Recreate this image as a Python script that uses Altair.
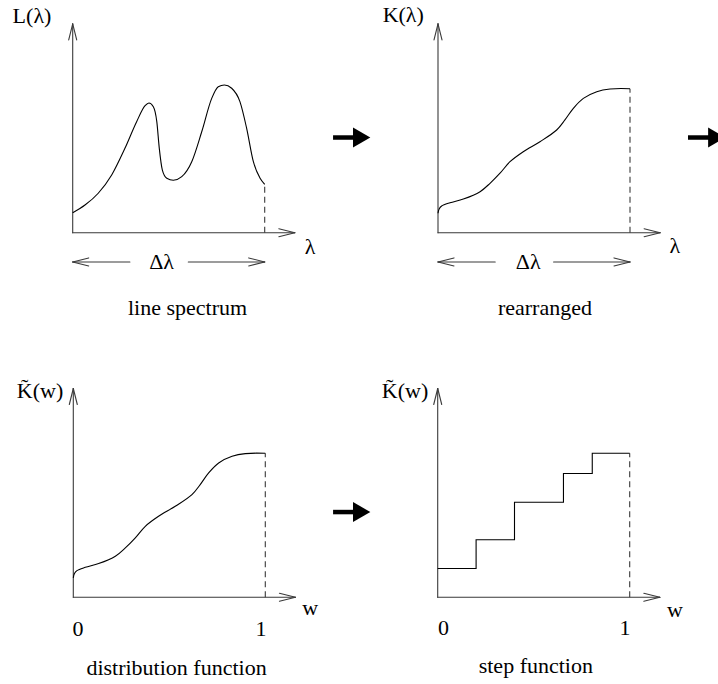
import altair as alt
import pandas as pd

# ---- curves (x: fraction of the band, y: relative intensity) ----
L_X = [0.0, 0.064, 0.133, 0.203, 0.272, 0.333, 0.377, 0.397, 0.420, 0.438, 0.451,
       0.467, 0.490, 0.524, 0.568, 0.620, 0.672, 0.724, 0.758, 0.790, 0.828, 0.871,
       0.906, 0.941, 0.976, 1.0]
L_Y = [0.139, 0.192, 0.274, 0.401, 0.586, 0.771, 0.882, 0.901, 0.875, 0.771, 0.586,
       0.435, 0.378, 0.364, 0.389, 0.493, 0.701, 0.933, 1.014, 1.026, 1.003, 0.910,
       0.725, 0.493, 0.378, 0.336]

K_X = [0.0, 0.006, 0.019, 0.0625, 0.132, 0.219, 0.271, 0.323, 0.375, 0.444, 0.531,
       0.618, 0.661, 0.705, 0.757, 0.827, 0.896, 1.0]
K_Y = [0.135, 0.165, 0.185, 0.208, 0.234, 0.285, 0.343, 0.413, 0.493, 0.5625, 0.632,
       0.713, 0.783, 0.864, 0.933, 0.979, 0.998, 1.0]

STEP_W = [0.0, 0.2, 0.4, 0.655, 0.805, 1.0]
STEP_K = [0.2, 0.4, 0.66, 0.86, 1.0, 1.0]

# ---- layout ----
CELL_W, CELL_H = 359, 342      # size of each of the four panels
UX, UY = 192.0, 144.0          # pixels per unit along x and y
Y_TIP, X_TIP = 1.45, 1.157     # axis arrow tips
FONT = "Liberation Serif"
FS = 22
AXIS_COLOR = "#3a3a3a"


def frame_segments(with_delta):
    hx, hy = 4 / UX, 16 / UY     # head of vertical arrow
    vx, vy = 16 / UX, 4 / UY     # head of horizontal arrow
    segs = [
        (0, 0, 0, Y_TIP), (-hx, Y_TIP - hy, 0, Y_TIP), (hx, Y_TIP - hy, 0, Y_TIP),
        (0, 0, X_TIP, 0), (X_TIP - vx, vy, X_TIP, 0), (X_TIP - vx, -vy, X_TIP, 0),
    ]
    if with_delta:
        yd = -0.203
        segs += [
            (0, yd, 0.298, yd), (0, yd, vx, yd + vy), (0, yd, vx, yd - vy),
            (0.602, yd, 1.0, yd), (1.0 - vx, yd + vy, 1.0, yd), (1.0 - vx, yd - vy, 1.0, yd),
        ]
    return pd.DataFrame(segs, columns=["x", "y", "x2", "y2"])


def panel(ox, oy, curve, interp, dash_top, labels, connector=None, clip_connector=False):
    W, H = CELL_W, CELL_H
    xs = alt.Scale(domain=[-ox / UX, (W - ox) / UX], nice=False, zero=False)
    ys = alt.Scale(domain=[-(H - oy) / UY, oy / UY], nice=False, zero=False)

    def X(f):
        return alt.X(f"{f}:Q", scale=xs, axis=None)

    def Y(f):
        return alt.Y(f"{f}:Q", scale=ys, axis=None)

    frame = alt.Chart(frame_segments(labels.get("delta") is not None)).mark_rule(
        color=AXIS_COLOR, strokeWidth=1.1, strokeCap="round"
    ).encode(x=X("x"), y=Y("y"), x2="x2:Q", y2="y2:Q")

    dashed = alt.Chart(pd.DataFrame({"x": [1.0], "y": [0.0], "y2": [dash_top]})).mark_rule(
        color=AXIS_COLOR, strokeWidth=1.1, strokeDash=[6, 4]
    ).encode(x=X("x"), y=Y("y"), y2="y2:Q")

    line = alt.Chart(curve).mark_line(
        color="black", strokeWidth=1.1, interpolate=interp
    ).encode(x=X("x"), y=Y("y"), order="x:Q")

    txt = pd.DataFrame(labels["text"], columns=["x", "y", "t", "b"])
    mid = alt.Chart(txt[txt.b == "middle"]).mark_text(
        font=FONT, fontSize=FS, color="black", align="center", baseline="middle"
    ).encode(x=X("x"), y=Y("y"), text="t:N")
    base = alt.Chart(txt[txt.b == "alphabetic"]).mark_text(
        font=FONT, fontSize=FS, color="black", align="center", baseline="alphabetic"
    ).encode(x=X("x"), y=Y("y"), text="t:N")

    layers = [frame, dashed, line, mid, base]

    if connector is not None:
        x0, x1, xh, yc = connector
        shaft = alt.Chart(pd.DataFrame({"x": [x0], "x2": [x1], "y": [yc]})).mark_rule(
            color="black", strokeWidth=4.5, clip=clip_connector
        ).encode(x=X("x"), x2="x2:Q", y=Y("y"))
        head = alt.Chart(pd.DataFrame({"x": [xh], "y": [yc]})).mark_point(
            shape="triangle-right", size=400, filled=True, color="black", opacity=1,
            strokeWidth=0, clip=clip_connector
        ).encode(x=X("x"), y=Y("y"))
        layers += [shaft, head]

    return alt.layer(*layers).properties(width=W, height=H)


spectrum = pd.DataFrame({"x": L_X, "y": L_Y})
cumulative = pd.DataFrame({"x": K_X, "y": K_Y})
steps = pd.DataFrame({"x": STEP_W, "y": STEP_K})

p1 = panel(
    72.7, 232.7, spectrum, "monotone", L_Y[-1],
    {"delta": True, "text": [
        (-0.212, 1.505, "L(λ)", "middle"),
        (1.236, -0.100, "λ", "middle"),
        (0.463, -0.203, "Δλ", "middle"),
        (0.598, -0.572, "line spectrum", "alphabetic"),
    ]},
    connector=(1.356, 1.47, 1.505, 0.661),
)
p2 = panel(
    79.0, 232.7, cumulative, "catmull-rom", K_Y[-1],
    {"delta": True, "text": [
        (-0.181, 1.51, "K(λ)", "middle"),
        (1.234, -0.090, "λ", "middle"),
        (0.470, -0.203, "Δλ", "middle"),
        (0.557, -0.572, "rearranged", "alphabetic"),
    ]},
    connector=(1.302, 1.417, 1.452, 0.661),
    clip_connector=True,
)
p3 = panel(
    73.3, 255.3, cumulative, "catmull-rom", K_Y[-1],
    {"delta": None, "text": [
        (-0.173, 1.43, "K̃(w)", "middle"),
        (1.234, -0.074, "w", "middle"),
        (0.024, -0.220, "0", "middle"),
        (0.978, -0.220, "1", "middle"),
        (0.5375, -0.54, "distribution function", "alphabetic"),
    ]},
    connector=(1.353, 1.467, 1.502, 0.592),
)
p4 = panel(
    78.7, 255.3, steps, "step-after", STEP_K[-1],
    {"delta": None, "text": [
        (-0.170, 1.43, "K̃(w)", "middle"),
        (1.236, -0.088, "w", "middle"),
        (0.030, -0.215, "0", "middle"),
        (0.976, -0.215, "1", "middle"),
        (0.511, -0.525, "step function", "alphabetic"),
    ]},
)

chart = (
    alt.concat(p1, p2, p3, p4, columns=2, spacing=0, bounds="flush")
    .properties(autosize=alt.AutoSizeParams(type="pad"), padding=0, background="white")
    .configure_view(stroke=None)
)

chart.save("out.html", embed_options={"renderer": "svg", "actions": False})
